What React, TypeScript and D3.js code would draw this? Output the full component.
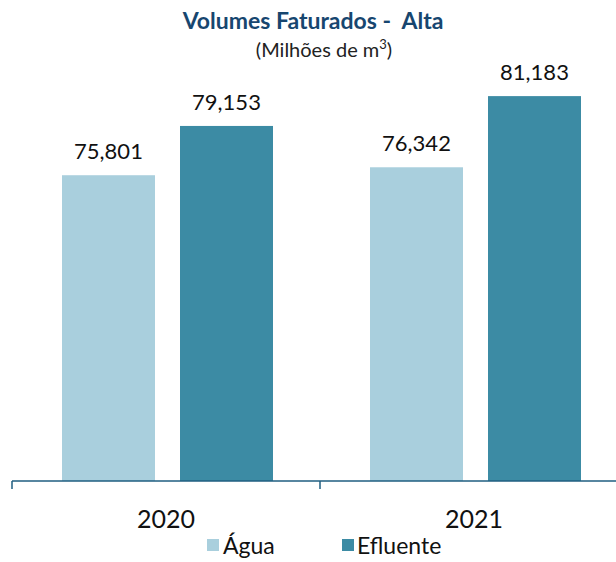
import React from "react";
import * as d3 from "d3";

const years = ["2020", "2021"];
const series = ["Água", "Efluente"];
const agua = [75801, 76342];
const efluente = [79153, 81183];
const valueLabels = [["75,801", "79,153"], ["76,342", "81,183"]];
const colors = ["#A9CFDD", "#3C8BA4"];

export default function App() {
  const W = 616, H = 562;
  const baseY = 481;
  const x0 = d3.scaleBand<string>().domain(years).range([12, 628]).padding(0);
  const x1 = d3.scaleBand<string>().domain(series).range([50, 261]).paddingInner(0.212).paddingOuter(0);
  const y = d3.scaleLinear().domain([55000, 85000]).range([baseY, 40]);
  const values = [agua, efluente];
  const font = "Lato, 'Open Sans', sans-serif";
  return (
    <svg width={W} height={H} style={{ position: "absolute", left: 0, top: 0 }} fontFamily={font}>
      <text x={313} y={29} textAnchor="middle" fontSize={23} fontWeight="bold" fill="#17466F" style={{ whiteSpace: "pre" }}>
        Volumes Faturados -  Alta
      </text>
      <text x={324} y={57} textAnchor="middle" fontSize={20} fill="#222">
        (Milhões de m<tspan dy={-8} fontSize={13}>3</tspan><tspan dy={8}>)</tspan>
      </text>
      {years.map((yr, i) => (
        <g key={yr} transform={`translate(${x0(yr)},0)`}>
          {series.map((s, j) => {
            const v = values[j][i];
            const bx = x1(s)!;
            const bw = x1.bandwidth();
            return (
              <g key={s}>
                <rect x={bx} y={y(v)} width={bw} height={baseY - y(v)} fill={colors[j]} />
                <text x={bx + bw / 2} y={y(v) - 16} textAnchor="middle" fontSize={22} fill="#111">
                  {valueLabels[i][j]}
                </text>
              </g>
            );
          })}
          <text x={x0.bandwidth() / 2} y={528} textAnchor="middle" fontSize={25} fill="#111">{yr}</text>
        </g>
      ))}
      <line x1={12} x2={628} y1={baseY} y2={baseY} stroke="#1F5E80" strokeWidth={1.5} />
      {[12, 320, 628].map((t) => (
        <line key={t} x1={t} x2={t} y1={baseY} y2={baseY + 8} stroke="#1F5E80" strokeWidth={1.5} />
      ))}
      <g>
        <rect x={207} y={539} width={12} height={12} fill={colors[0]} />
        <text x={223} y={554} fontSize={23} fill="#111">Água</text>
        <rect x={342} y={539} width={12} height={12} fill={colors[1]} />
        <text x={357} y={554} fontSize={23} fill="#111">Efluente</text>
      </g>
    </svg>
  );
}
